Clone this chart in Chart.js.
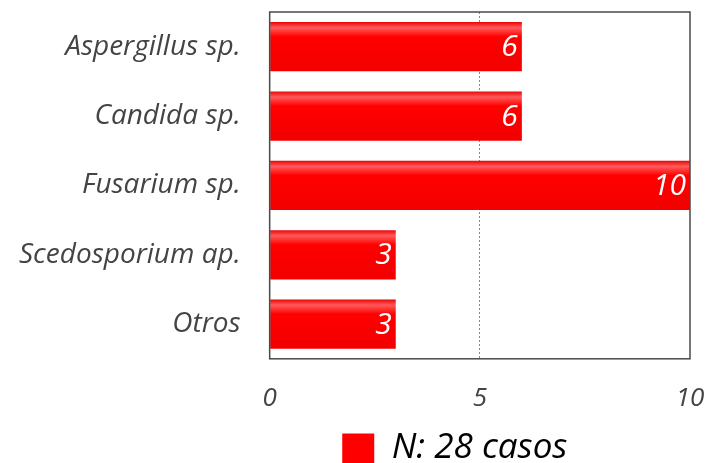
<!DOCTYPE html>
<html>
<head>
<meta charset="utf-8">
<script src="https://cdn.jsdelivr.net/npm/chart.js@4/dist/chart.umd.min.js"></script>
<style>
  html, body { margin: 0; padding: 0; background: #fff; overflow: hidden; }
  #wrap { width: 708px; height: 491px; }
</style>
</head>
<body>
<div id="wrap"><canvas id="chart-canvas"></canvas></div>
<script>
var categories = ['Aspergillus sp.', 'Candida sp.', 'Fusarium sp.', 'Scedosporium ap.', 'Otros'];
var casos = [6, 6, 10, 3, 3];
var xTicks = [0, 5, 10];
var seriesLabel = 'N: 28 casos';

var FONT = '"Open Sans", Lato, sans-serif';

var canvas = document.getElementById('chart-canvas');
var ctx = canvas.getContext('2d');

// vertical shine on each bar, like the original
function barColor(context) {
    var chart = context.chart;
    var y = chart.scales.y;
    if (!chart.chartArea || !y || context.dataIndex === undefined) return '#ff0000';
    var mid = y.getPixelForValue(context.dataIndex);
    var half = 25;
    var g = chart.ctx.createLinearGradient(0, mid - half, 0, mid + half);
    g.addColorStop(0, '#e80000');
    g.addColorStop(0.12, '#ff5a5a');
    g.addColorStop(0.3, '#ff0000');
    g.addColorStop(1, '#f20000');
    return g;
}

var frame = {
    id: 'frame',
    afterDatasetsDraw(chart) {
        var a = chart.chartArea;
        var c = chart.ctx;
        c.save();
        c.strokeStyle = '#4a4a4a';
        c.lineWidth = 1.5;
        c.strokeRect(a.left, a.top, a.right - a.left, a.bottom - a.top);
        c.restore();
    }
};

var valueLabels = {
    id: 'valueLabels',
    afterDatasetsDraw(chart) {
        var c = chart.ctx;
        var meta = chart.getDatasetMeta(0);
        c.save();
        c.fillStyle = '#fff';
        c.font = 'italic 30px ' + FONT;
        c.textAlign = 'right';
        c.textBaseline = 'middle';
        meta.data.forEach(function (bar, i) {
            c.fillText(String(casos[i]), bar.x - 4, bar.y + 1);
        });
        c.restore();
    }
};

// legend sits a bit left of the plot centre and closer to the ticks in the original
var legendNudge = {
    id: 'legendNudge',
    afterLayout(chart) {
        var l = chart.legend;
        if (!l) return;
        l.left -= 25; l.right -= 25;
        l.top -= 15; l.bottom -= 15;
    }
};

var chart = new Chart(ctx, {
    type: 'bar',
    data: {
        labels: categories,
        datasets: [{
            label: seriesLabel,
            data: casos,
            backgroundColor: barColor,
            borderWidth: 0,
            barPercentage: 0.71,
            categoryPercentage: 1
        }]
    },
    options: {
        indexAxis: 'y',
        responsive: true,
        maintainAspectRatio: false,
        animation: false,
        layout: { padding: { top: 12, right: 18, left: -10, bottom: 0 } },
        plugins: {
            tooltip: { enabled: false },
            legend: {
                position: 'bottom',
                fullSize: false,
                labels: {
                    boxWidth: 32,
                    boxHeight: 30,
                    padding: 8,
                    color: '#444',
                    font: { family: FONT, size: 35, style: 'italic' },
                    generateLabels: function () {
                        return [{ text: seriesLabel, fillStyle: '#ff0000', strokeStyle: '#ff0000', lineWidth: 0 }];
                    }
                }
            }
        },
        scales: {
            x: {
                min: xTicks[0],
                max: xTicks[xTicks.length - 1],
                afterBuildTicks: function (axis) {
                    axis.ticks = xTicks.map(function (v) { return { value: v }; });
                },
                afterFit: function (axis) {
                    axis.paddingLeft = 0;
                    axis.paddingRight = 0;
                },
                grid: {
                    drawTicks: false,
                    color: function (c) { return c.tick && c.tick.value === 5 ? '#888' : 'transparent'; },
                    lineWidth: 1
                },
                border: { display: false, dash: [2, 2] },
                ticks: {
                    padding: 24,
                    color: '#444',
                    font: { family: FONT, size: 26, style: 'italic' }
                }
            },
            y: {
                afterFit: function (axis) {
                    axis.paddingTop = 0;
                    axis.paddingBottom = 0;
                },
                border: { display: false },
                grid: { display: false, drawTicks: false },
                ticks: {
                    padding: 29,
                    color: '#444',
                    font: { family: FONT, size: 28, style: 'italic' }
                }
            }
        }
    },
    plugins: [frame, valueLabels, legendNudge]
});
</script>
</body>
</html>
